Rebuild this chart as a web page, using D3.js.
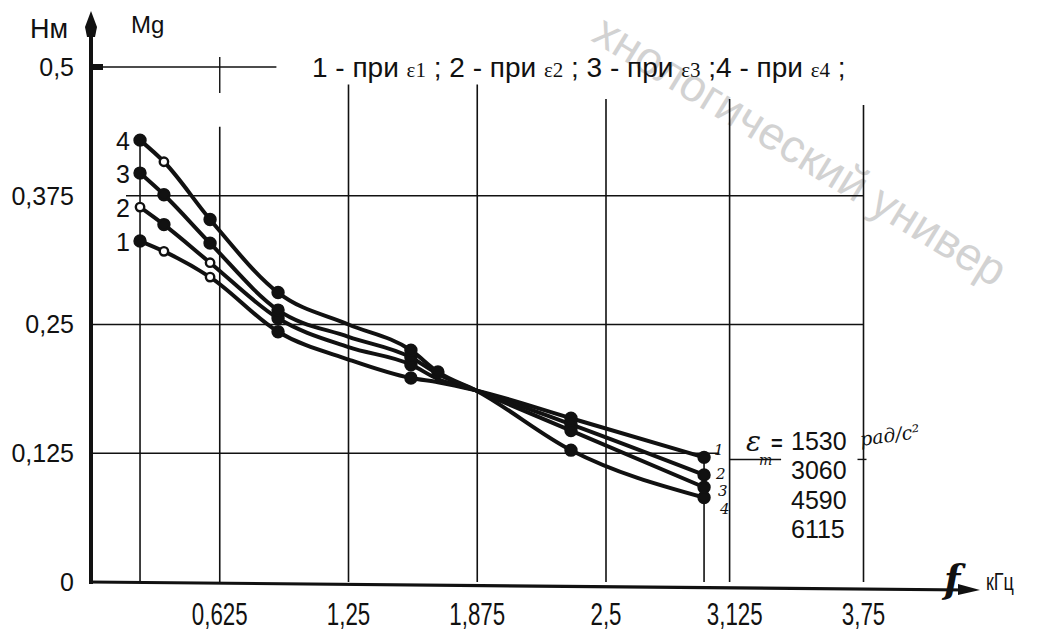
<!DOCTYPE html>
<html>
<head>
<meta charset="utf-8">
<script src="https://cdn.jsdelivr.net/npm/d3@7"></script>
<style>
    body { margin: 0; background: #fff; }
    svg { display: block; }
</style>
</head>
<body>
<svg id="chart"></svg>
<script>
// частота, кГц
const freq = [0.238, 0.354, 0.578, 0.908, 1.25, 1.553, 1.684, 1.869, 2.33, 2.976];
// момент Mg, Нм, для кривых 1..4
const torque1 = [0.331, 0.321, 0.296, 0.243, 0.216, 0.198, 0.194, 0.186, 0.159, 0.121];
const torque2 = [0.364, 0.347, 0.310, 0.256, 0.228, 0.211, 0.197, 0.186, 0.153, 0.104];
const torque3 = [0.397, 0.376, 0.329, 0.264, 0.238, 0.218, 0.202, 0.186, 0.147, 0.092];
const torque4 = [0.429, 0.408, 0.352, 0.281, 0.250, 0.225, 0.204, 0.186, 0.128, 0.082];
// f = filled point, o = open point, "" = none
const marks1 = ["f", "o", "o", "f", "", "f", "", "", "f", "f"];
const marks2 = ["o", "f", "o", "f", "", "f", "", "", "f", "f"];
const marks3 = ["f", "f", "f", "f", "", "f", "", "", "f", "f"];
const marks4 = ["f", "o", "f", "f", "", "f", "f", "", "f", "f"];
const seriesNames = ["1", "2", "3", "4"];

const yTicks = [0, 0.125, 0.25, 0.375, 0.5];
const yTickLabels = ["0", "0,125", "0,25", "0,375", "0,5"];
const xTicks = [0.625, 1.25, 1.875, 2.5, 3.125, 3.75];
const xTickLabels = ["0,625", "1,25", "1,875", "2,5", "3,125", "3,75"];
const epsValues = ["1530", "3060", "4590", "6115"];

const width = 1041, height = 641;
const ink = "#111";
const sans = "Liberation Sans, Arial, sans-serif";
const serif = "DejaVu Serif, serif";

const svg = d3.select("#chart")
    .attr("width", width)
    .attr("height", height);

const x = d3.scaleLinear().domain([0, 4.3]).range([91, 91 + 206 * 4.3]);
const y = d3.scaleLinear().domain([0, 0.5]).range([582, 67]);

const series = [torque1, torque2, torque3, torque4].map((vals, i) => ({
    name: seriesNames[i],
    marks: [marks1, marks2, marks3, marks4][i],
    points: vals.map((v, j) => ({ f: freq[j], m: v }))
}));

// watermark (only the part that shows on the scan)
svg.append("text")
    .attr("transform", "translate(590,40) rotate(31.5)")
    .attr("font-family", sans)
    .attr("font-size", 46)
    .attr("fill", "#d2d2d2")
    .text("хнологический универ");

// grid
const vGrid = [
    { f: freq[0], top: torque4[0] },
    { f: 0.625, top: 0.442 },
    { f: 1.25, top: 0.483 },
    { f: 1.875, top: 0.483 },
    { f: 2.5, top: 0.469 },
    { f: freq[freq.length - 1], top: torque1[torque1.length - 1] },
    { f: 3.1, top: 0.469 },
    { f: 3.75, top: 0.463 }
];
svg.append("g")
    .attr("class", "vgrid")
    .selectAll("line")
    .data(vGrid)
    .join("line")
    .attr("x1", d => x(d.f))
    .attr("x2", d => x(d.f))
    .attr("y1", d => y(d.top))
    .attr("y2", y(0))
    .attr("stroke", ink)
    .attr("stroke-width", 1.6);

const hGrid = [
    { m: 0.5, from: 0, to: 0.9 },
    { m: 0.375, from: 0.17, to: 3.75 },
    { m: 0.25, from: 0, to: 3.75 },
    { m: 0.125, from: 0, to: 3.05 },
    { m: 0.119, from: 3.1, to: 3.35 }
];
svg.append("g")
    .attr("class", "hgrid")
    .selectAll("line")
    .data(hGrid)
    .join("line")
    .attr("x1", d => x(d.from))
    .attr("x2", d => x(d.to))
    .attr("y1", d => y(d.m))
    .attr("y2", d => y(d.m))
    .attr("stroke", ink)
    .attr("stroke-width", 1.6);

// small ticks
svg.append("line")
    .attr("x1", x(0.625)).attr("x2", x(0.625))
    .attr("y1", y(0.5) - 10).attr("y2", y(0.5) + 26)
    .attr("stroke", ink).attr("stroke-width", 1.4);
svg.append("line")
    .attr("x1", x(3.75) - 6).attr("x2", x(3.75) + 3)
    .attr("y1", y(0.119)).attr("y2", y(0.119))
    .attr("stroke", ink).attr("stroke-width", 1.4);

// axes
svg.append("line")
    .attr("x1", x(0)).attr("x2", x(0))
    .attr("y1", y(0) + 2).attr("y2", 20)
    .attr("stroke", ink).attr("stroke-width", 4);
svg.append("path")
    .attr("d", `M${x(0)},11 L${x(0) + 6},27 L${x(0) + 4},37 L${x(0) - 4},37 L${x(0) - 6},27 Z`)
    .attr("fill", ink);
svg.append("rect")
    .attr("x", x(0)).attr("y", y(0.5) - 3)
    .attr("width", 12).attr("height", 6)
    .attr("fill", ink);

svg.append("line")
    .attr("x1", x(0) - 2).attr("x2", 968)
    .attr("y1", y(0)).attr("y2", y(0) + 8)
    .attr("stroke", ink).attr("stroke-width", 3.2);
svg.append("path")
    .attr("d", `M980,${y(0) + 8} L958,${y(0) + 2} L958,${y(0) + 13} Z`)
    .attr("fill", ink);

// tick labels
svg.append("g")
    .attr("class", "ylabels")
    .selectAll("text")
    .data(yTicks)
    .join("text")
    .attr("x", 74)
    .attr("y", d => y(d))
    .attr("dy", "0.35em")
    .attr("text-anchor", "end")
    .attr("font-family", sans)
    .attr("font-size", 25)
    .attr("fill", ink)
    .text((d, i) => yTickLabels[i]);

// narrow, tall figures like on the scan
svg.append("g")
    .attr("class", "xlabels")
    .selectAll("text")
    .data(xTicks)
    .join("text")
    .attr("transform", d => `translate(${x(d)},625) scale(0.72,1)`)
    .attr("text-anchor", "middle")
    .attr("font-family", sans)
    .attr("font-size", 31)
    .attr("fill", ink)
    .text((d, i) => xTickLabels[i]);

// axis titles
svg.append("text").attr("x", 30).attr("y", 38)
    .attr("font-family", sans).attr("font-size", 27).attr("fill", ink).text("Нм");
svg.append("text").attr("x", 131).attr("y", 33)
    .attr("font-family", sans).attr("font-size", 24).attr("fill", ink).text("Mg");
svg.append("text").attr("x", 944).attr("y", 592)
    .attr("font-family", serif).attr("font-style", "italic").attr("font-weight", "bold")
    .attr("font-size", 38).attr("fill", ink).text("f");
svg.append("text").attr("transform", "translate(986,590) scale(0.75,1)")
    .attr("font-family", sans)
    .attr("font-size", 24).attr("fill", ink).text("кГц");

// legend line at the top
const legend = svg.append("text")
    .attr("x", 312).attr("y", 77)
    .attr("font-family", sans).attr("font-size", 28).attr("fill", ink);
seriesNames.forEach((n, i) => {
    legend.append("tspan").text((i === 0 || i === 3 ? "" : " ") + n + " - при ");
    legend.append("tspan").attr("font-family", "Liberation Serif, serif").attr("font-size", 21).text("ε" + (i + 1));
    legend.append("tspan").text(" ;");
});

// curves
const line = d3.line()
    .x(d => x(d.f))
    .y(d => y(d.m))
    .curve(d3.curveMonotoneX);

svg.append("g")
    .attr("class", "curves")
    .selectAll("path")
    .data(series)
    .join("path")
    .attr("d", d => line(d.points))
    .attr("fill", "none")
    .attr("stroke", ink)
    .attr("stroke-width", 4)
    .attr("stroke-linejoin", "round");

const pts = series.flatMap(s => s.points.map((p, j) => ({ ...p, kind: s.marks[j] })))
    .filter(p => p.kind);
svg.append("g")
    .attr("class", "points")
    .selectAll("circle")
    .data(pts)
    .join("circle")
    .attr("cx", d => x(d.f))
    .attr("cy", d => y(d.m))
    .attr("r", d => d.kind === "f" ? 5.5 : 4.2)
    .attr("fill", d => d.kind === "f" ? ink : "#fff")
    .attr("stroke", ink)
    .attr("stroke-width", 2.4);

// curve numbers, left
svg.append("g")
    .attr("class", "leftNames")
    .selectAll("text")
    .data(series)
    .join("text")
    .attr("x", 130)
    .attr("y", d => y(d.points[0].m) + 10)
    .attr("text-anchor", "end")
    .attr("font-family", sans)
    .attr("font-size", 25)
    .attr("fill", ink)
    .text(d => d.name);

// curve numbers, right (handwritten)
svg.append("g")
    .attr("class", "rightNames")
    .selectAll("text")
    .data(series)
    .join("text")
    .attr("x", (d, i) => 714 + i * 2)
    .attr("y", (d, i) => [455, 479, 496, 514][i])
    .attr("font-family", serif)
    .attr("font-style", "italic")
    .attr("font-size", 15)
    .attr("fill", ink)
    .text(d => d.name);

// ε values
svg.append("text").attr("x", 746).attr("y", 451)
    .attr("font-family", serif).attr("font-style", "italic")
    .attr("font-size", 28).attr("fill", ink).text("ε");
svg.append("text").attr("x", 771).attr("y", 450)
    .attr("font-family", sans).attr("font-weight", "bold")
    .attr("font-size", 20).attr("fill", ink).text("=");
svg.append("text").attr("x", 759).attr("y", 465)
    .attr("font-family", serif).attr("font-style", "italic")
    .attr("font-size", 14).attr("fill", ink).text("m");

svg.append("g")
    .attr("class", "epsValues")
    .selectAll("text")
    .data(epsValues)
    .join("text")
    .attr("x", 791)
    .attr("y", (d, i) => 450 + i * 29.3)
    .attr("font-family", sans)
    .attr("font-size", 25)
    .attr("fill", ink)
    .text(d => d);

svg.append("text").attr("transform", "translate(861,446) rotate(-8)")
    .attr("font-family", serif).attr("font-style", "italic")
    .attr("font-size", 19).attr("fill", ink).text("рад/с²");
</script>
</body>
</html>
